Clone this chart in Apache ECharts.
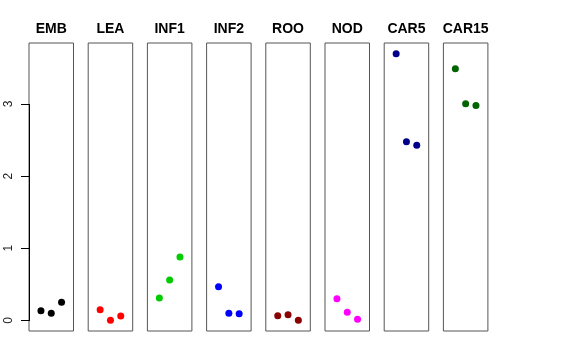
<!DOCTYPE html>
<html>
<head>
<meta charset="utf-8">
<script src="https://cdn.jsdelivr.net/npm/echarts@6/dist/echarts.min.js"></script>
<style>html,body{margin:0;padding:0;background:#fff}#c{width:576px;height:360px}</style>
</head>
<body>
<div id="c"></div>
<script>
// Panels (tissues)
const panels = ["EMB", "LEA", "INF1", "INF2", "ROO", "NOD", "CAR5", "CAR15"];
const colors = ["#000000", "#FF0000", "#00CD00", "#0000FF", "#8B0000", "#FF00FF", "#00008B", "#006400"];
// x position of each of the 3 points in a panel
const xPos = [1, 2, 3];
// y values, per panel
const EMB = [0.133, 0.097, 0.250];
const LEA = [0.147, 0.000, 0.060];
const INF1 = [0.309, 0.559, 0.878];
const INF2 = [0.466, 0.097, 0.093];
const ROO = [0.064, 0.078, 0.000];
const NOD = [0.300, 0.111, 0.014];
const CAR5 = [3.698, 2.477, 2.427];
const CAR15 = [3.490, 3.004, 2.980];
const values = [EMB, LEA, INF1, INF2, ROO, NOD, CAR5, CAR15];
const yTicks = [0, 1, 2, 3];

(function () {
// R-style 4% axis extension
const xLo = 0, xHi = 4;
const xMin = xLo - 0.04 * (xHi - xLo), xMax = xHi + 0.04 * (xHi - xLo);
const allY = values.flat();
const yLo = Math.min(...allY), yHi = Math.max(...allY);
const yMin = yLo - 0.04 * (yHi - yLo), yMax = yHi + 0.04 * (yHi - yLo);

const chart = echarts.init(document.getElementById('c'), null, {renderer: 'canvas'});
const grids = [], xAxes = [], yAxes = [], series = [], texts = [];
const left0 = 29, step = 59.2, w = 44.5, gTop = 43, gH = 288;
panels.forEach((p, i) => {
  const L = left0 + step * i;
  grids.push({left: L, top: gTop, width: w, height: gH, show: true, borderColor: '#555', borderWidth: 1, backgroundColor: 'transparent'});
  xAxes.push({gridIndex: i, type: 'value', min: xMin, max: xMax, show: false});
  yAxes.push({
    gridIndex: i, type: 'value', min: yMin, max: yMax, show: i === 0,
    splitLine: {show: false},
    axisLine: {show: false, onZero: false},
    axisTick: {show: false},
    axisLabel: {show: i === 0, customValues: yTicks, rotate: 90, margin: 14, fontSize: 12,
      fontFamily: 'Liberation Sans, Arial, sans-serif', color: '#222'}
  });
  texts.push({type: 'text', x: L + w / 2, y: 29.5, silent: true,
    style: {text: p, align: 'center', verticalAlign: 'middle', fill: '#000',
      font: 'bold 14px "Liberation Sans", Arial, sans-serif'}});
  series.push({
    type: 'scatter', xAxisIndex: i, yAxisIndex: i, symbol: 'circle', symbolSize: 7,
    itemStyle: {color: colors[i], opacity: 1}, silent: true,
    data: values[i].map((v, k) => [xPos[k], v])
  });
});

chart.setOption({animation: false, graphic: texts, grid: grids, xAxis: xAxes, yAxis: yAxes, series: series});

// R-style y axis: line from first to last tick, plus tick marks, placed via the axis scale
const finder = {xAxisIndex: 0, yAxisIndex: 0};
const tickPx = yTicks.map(t => chart.convertToPixel(finder, [xMin, t]));
const axisX = Math.round(tickPx[0][0]);
const yTop = Math.round(tickPx[tickPx.length - 1][1]), yBot = Math.round(tickPx[0][1]);
const axisEls = [{type: 'rect', silent: true, z: 10,
  shape: {x: axisX, y: yTop, width: 1, height: yBot - yTop + 1},
  style: {fill: '#000'}}];
tickPx.forEach(pt => {
  const y = Math.round(pt[1]);
  axisEls.push({type: 'rect', silent: true, z: 10,
    shape: {x: axisX - 8, y: y, width: 8, height: 1}, style: {fill: '#000'}});
});
chart.setOption({graphic: texts.concat(axisEls)});
})();
</script>
</body>
</html>
